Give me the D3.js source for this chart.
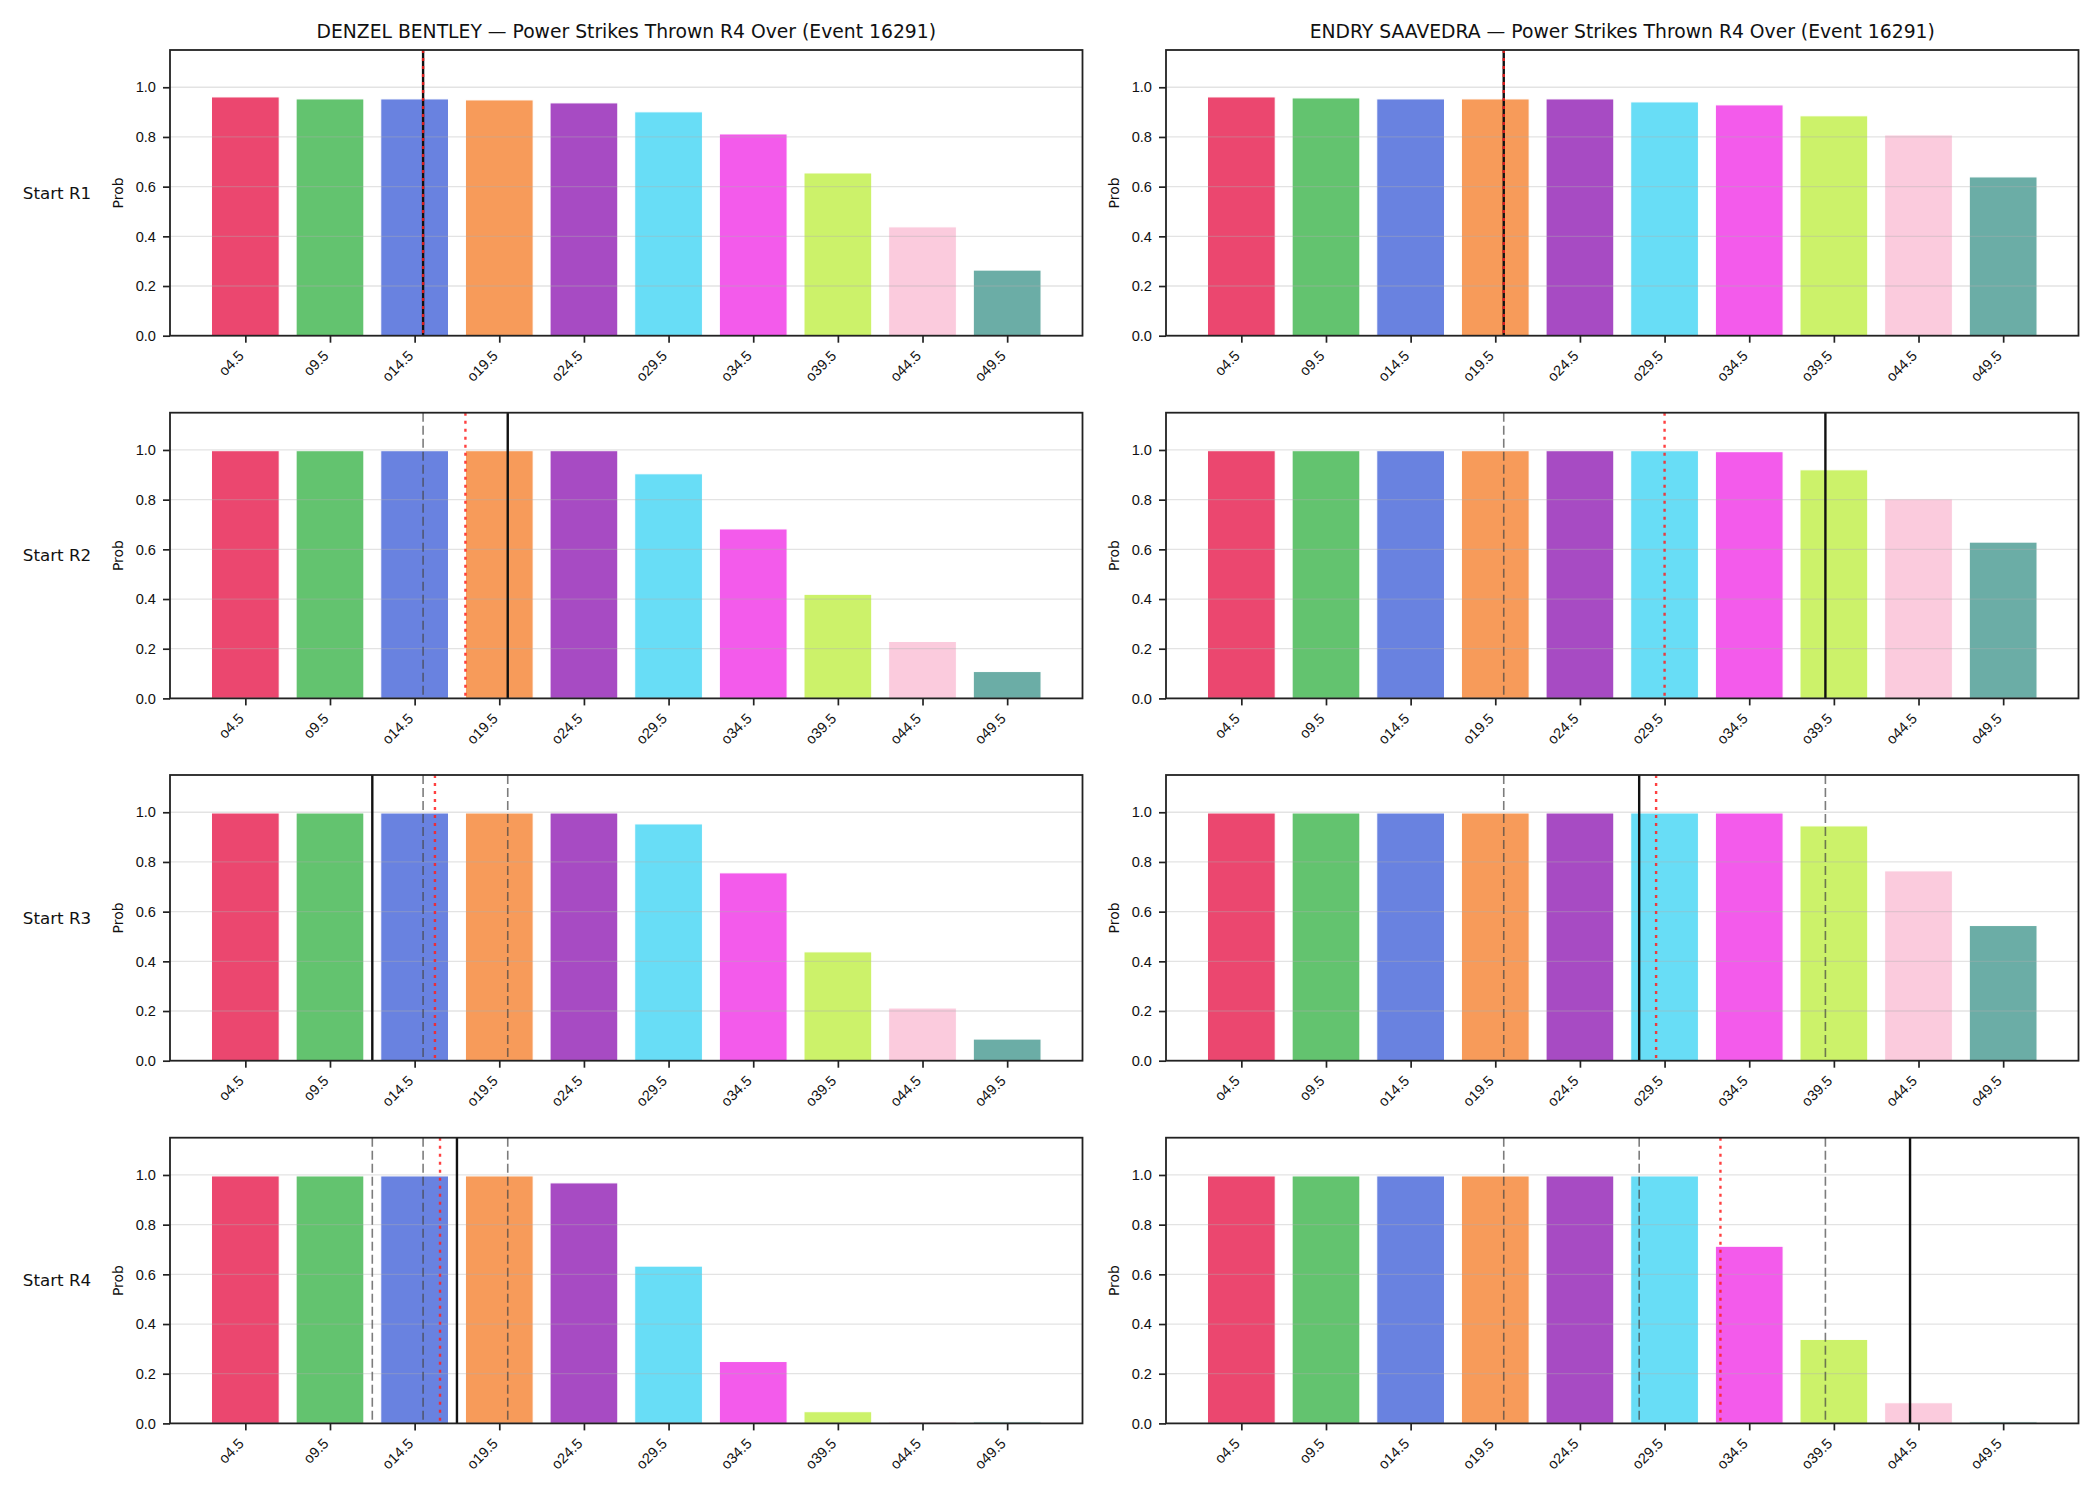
<!DOCTYPE html>
<html>
<head>
<meta charset="utf-8">
<title>Power Strikes Thrown R4 Over</title>
<style>
  body { margin: 0; background: #fff; }
  svg { display: block; font-family: "DejaVu Sans", sans-serif; }
  .axis .domain { display: none; }
</style>
<script src="https://d3js.org/d3.v7.min.js"></script>
</head>
<body>
<svg id="chart" width="2100" height="1500"></svg>
<script>

// categories
var lineLabels = ["o4.5", "o9.5", "o14.5", "o19.5", "o24.5", "o29.5", "o34.5", "o39.5", "o44.5", "o49.5"];
var lineValues = [4.5, 9.5, 14.5, 19.5, 24.5, 29.5, 34.5, 39.5, 44.5, 49.5];
var roundLabels = ["Start R1", "Start R2", "Start R3", "Start R4"];
var playerNames = ["DENZEL BENTLEY", "ENDRY SAAVEDRA"];
var titleSuffix = " \u2014 Power Strikes Thrown R4 Over (Event 16291)";
var yTicks = [0, 0.2, 0.4, 0.6, 0.8, 1.0];

// P(over) per round, one row per starting round
var bentleyProbs = [
  [0.961, 0.953, 0.953, 0.949, 0.937, 0.901, 0.812, 0.655, 0.438, 0.264],
  [0.997, 0.997, 0.997, 0.997, 0.997, 0.904, 0.682, 0.419, 0.229, 0.108],
  [0.997, 0.997, 0.997, 0.997, 0.997, 0.953, 0.756, 0.438, 0.212, 0.087],
  [0.996, 0.996, 0.996, 0.996, 0.968, 0.633, 0.249, 0.047, 0.006, 0.006]
];
var saavedraProbs = [
  [0.961, 0.957, 0.953, 0.953, 0.953, 0.941, 0.929, 0.885, 0.808, 0.639],
  [0.997, 0.997, 0.997, 0.997, 0.997, 0.997, 0.993, 0.920, 0.803, 0.629],
  [0.997, 0.997, 0.997, 0.997, 0.997, 0.997, 0.997, 0.945, 0.764, 0.544],
  [0.996, 0.996, 0.996, 0.996, 0.996, 0.996, 0.713, 0.338, 0.083, 0.006]
];

// vertical markers (strike counts): solid = current, dotted red = projection, dashed = earlier rounds
var bentleyCurrent = [15, 20, 12, 17];
var bentleyProj = [15, 17.5, 15.7, 16];
var bentleyPrev = [[], [15], [15, 20], [12, 15, 20]];
var saavedraCurrent = [20, 39, 28, 44];
var saavedraProj = [20, 29.5, 29, 32.8];
var saavedraPrev = [[], [20], [20, 39], [20, 28, 39]];

var barColors = ["#e6194b", "#3cb44b", "#4363d8", "#f58231", "#911eb4",
                 "#42d4f4", "#f032e6", "#bfef45", "#fabed4", "#469990"];

var svg = d3.select("#chart");

var colLeft = [170, 1166], colWidth = 912.5;
var rowTop = [50, 412.7, 775, 1137.7], rowHeight = 285.7;

var players = [
  {name: playerNames[0], probs: bentleyProbs, cur: bentleyCurrent, proj: bentleyProj, prev: bentleyPrev},
  {name: playerNames[1], probs: saavedraProbs, cur: saavedraCurrent, proj: saavedraProj, prev: saavedraPrev}
];

var x = d3.scaleLinear().domain([-0.89, 9.89]).range([0, colWidth]);
var y = d3.scaleLinear().domain([0, 1.15]).range([rowHeight, 0]);
// strike count -> same x position as the bar categories
var xs = d3.scaleLinear().domain([lineValues[0], lineValues[9]]).range([x(0), x(9)]);

function drawPanel(p, c, r) {
  var g = svg.append("g").attr("transform", "translate(" + colLeft[c] + "," + rowTop[r] + ")");
  var data = p.probs[r];

  g.selectAll("rect.bar")
    .data(data)
    .enter().append("rect")
      .attr("class", "bar")
      .attr("x", function(d, i) { return x(i - 0.4); })
      .attr("width", x(0.8) - x(0))
      .attr("y", function(d) { return y(d); })
      .attr("height", function(d) { return y(0) - y(d); })
      .attr("fill", function(d, i) { return barColors[i]; })
      .attr("fill-opacity", 0.8)
      .attr("stroke", "#fff")
      .attr("stroke-width", 1);

  // grid sits over the bars like matplotlib
  g.selectAll("line.grid")
    .data(yTicks)
    .enter().append("line")
      .attr("x1", 0).attr("x2", colWidth)
      .attr("y1", function(d) { return y(d); })
      .attr("y2", function(d) { return y(d); })
      .attr("stroke", "#b0b0b0")
      .attr("stroke-opacity", 0.35)
      .attr("stroke-width", 1.3);

  g.selectAll("line.prev")
    .data(p.prev[r])
    .enter().append("line")
      .attr("x1", function(d) { return xs(d); })
      .attr("x2", function(d) { return xs(d); })
      .attr("y1", 0).attr("y2", rowHeight)
      .attr("stroke", "#444")
      .attr("stroke-opacity", 0.7)
      .attr("stroke-width", 1.6)
      .attr("stroke-dasharray", "9,4");

  g.append("line")
    .attr("x1", xs(p.cur[r])).attr("x2", xs(p.cur[r]))
    .attr("y1", 0).attr("y2", rowHeight)
    .attr("stroke", "#111")
    .attr("stroke-width", 2.4);

  g.append("line")
    .attr("x1", xs(p.proj[r])).attr("x2", xs(p.proj[r]))
    .attr("y1", 0).attr("y2", rowHeight)
    .attr("stroke", "#ff2020")
    .attr("stroke-opacity", 0.85)
    .attr("stroke-width", 2.4)
    .attr("stroke-dasharray", "3,5");

  // axes
  var xAxis = g.append("g")
    .attr("class", "axis")
    .attr("transform", "translate(0," + rowHeight + ")")
    .call(d3.axisBottom(x).tickValues(d3.range(10)).tickSize(7).tickPadding(7)
      .tickFormat(function(i) { return lineLabels[i]; }));
  xAxis.selectAll("text")
    .attr("font-size", "14.6px")
    .attr("fill", "#111")
    .attr("text-anchor", "end")
    .attr("dy", null)
    .attr("y", null)
    .attr("transform", "translate(-1,21) rotate(-45)");

  var yAxis = g.append("g")
    .attr("class", "axis")
    .call(d3.axisLeft(y).tickValues(yTicks).tickSize(7).tickPadding(7).tickFormat(d3.format(".1f")));
  yAxis.selectAll("text").attr("font-size", "14.6px").attr("fill", "#111");

  g.selectAll(".axis line").attr("stroke", "#222").attr("stroke-width", 1.7);

  g.append("rect")
    .attr("width", colWidth).attr("height", rowHeight)
    .attr("fill", "none")
    .attr("stroke", "#222")
    .attr("stroke-width", 1.8);

  g.append("text")
    .attr("transform", "translate(-47," + rowHeight / 2 + ") rotate(-90)")
    .attr("text-anchor", "middle")
    .attr("font-size", "14px")
    .attr("fill", "#111")
    .text("Prob");

  if (c == 0) {
    g.append("text")
      .attr("x", 57 - colLeft[0])
      .attr("y", rowHeight / 2)
      .attr("dy", "0.35em")
      .attr("text-anchor", "middle")
      .attr("font-size", "16.7px")
      .attr("fill", "#111")
      .text(roundLabels[r]);
  }

  if (r == 0) {
    g.append("text")
      .attr("x", colWidth / 2)
      .attr("y", -12.5)
      .attr("text-anchor", "middle")
      .attr("font-size", "18.75px")
      .attr("fill", "#111")
      .text(p.name + titleSuffix);
  }
}

for (var c = 0; c < players.length; c++) {
  for (var r = 0; r < roundLabels.length; r++) {
    drawPanel(players[c], c, r);
  }
}

</script>
</body>
</html>
